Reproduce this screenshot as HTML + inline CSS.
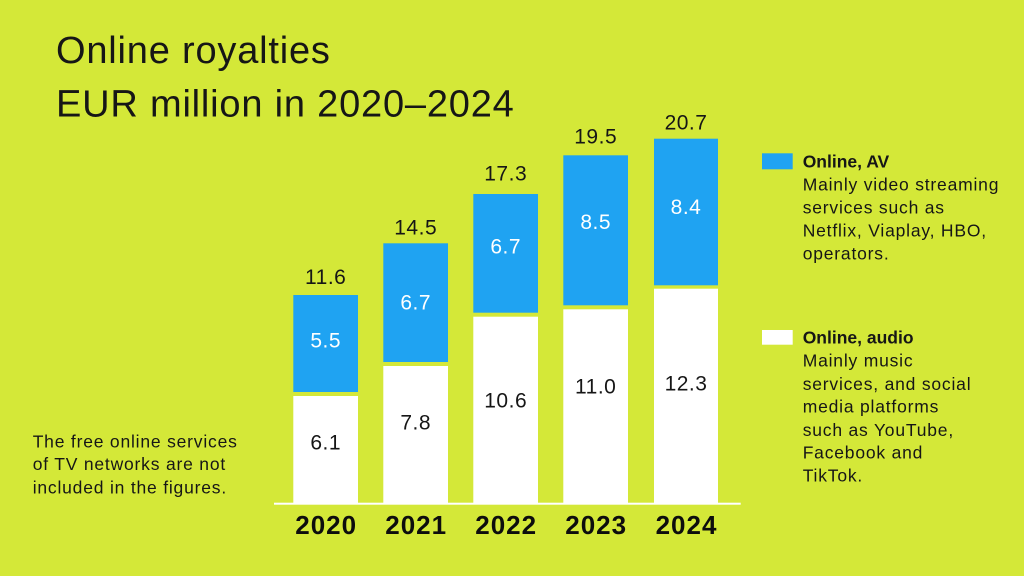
<!DOCTYPE html>
<html>
<head>
<meta charset="utf-8">
<style>
  html, body { margin: 0; padding: 0; }
  body { width: 1024px; height: 576px; overflow: hidden; background: #d4e838; }
  svg { display: block; }
  text { font-family: "Liberation Sans", "DejaVu Sans", sans-serif; fill: #161616; }
  .title { font-size: 38px; letter-spacing: 0.8px; }
  .tot { font-size: 21px; letter-spacing: 0.5px; }
  .inb { font-size: 21px; letter-spacing: 0.5px; fill: #ffffff; }
  .inw { font-size: 21px; letter-spacing: 0.5px; }
  .yr { font-size: 26px; font-weight: bold; letter-spacing: 1px; fill: #0d0d0d; }
  .lgb { font-size: 17.5px; font-weight: bold; }
  .lg { font-size: 17.5px; letter-spacing: 0.8px; }
</style>
</head>
<body>
<svg width="1024" height="576" viewBox="0 0 1024 576" xmlns="http://www.w3.org/2000/svg">
  <rect x="0" y="0" width="1024" height="576" fill="#d4e838"/>

  <!-- Title -->
  <text class="title" x="56" y="63">Online royalties</text>
  <text class="title" x="56" y="116.5">EUR million in 2020–2024</text>

  <!-- Bars -->
  <g fill="#1fa3f2">
    <rect x="293.3" y="295" width="64.7" height="97"/>
    <rect x="383.3" y="243.3" width="64.7" height="118.7"/>
    <rect x="473.3" y="194" width="64.7" height="118.7"/>
    <rect x="563.3" y="155.3" width="64.7" height="150"/>
    <rect x="654" y="138.7" width="64" height="146.6"/>
  </g>
  <g fill="#ffffff">
    <rect x="293.3" y="396" width="64.7" height="107"/>
    <rect x="383.3" y="366" width="64.7" height="137"/>
    <rect x="473.3" y="316.7" width="64.7" height="186.3"/>
    <rect x="563.3" y="309.3" width="64.7" height="193.7"/>
    <rect x="654" y="288.7" width="64" height="214.3"/>
    <rect x="274" y="502.7" width="466.7" height="2"/>
  </g>

  <!-- Totals -->
  <g text-anchor="middle">
    <text class="tot" x="325.7" y="284">11.6</text>
    <text class="tot" x="415.7" y="234.7">14.5</text>
    <text class="tot" x="505.7" y="180.7">17.3</text>
    <text class="tot" x="595.7" y="143.3">19.5</text>
    <text class="tot" x="686" y="129.3">20.7</text>

    <text class="inb" x="325.7" y="347.3">5.5</text>
    <text class="inb" x="415.7" y="309.3">6.7</text>
    <text class="inb" x="505.7" y="253.3">6.7</text>
    <text class="inb" x="595.7" y="229">8.5</text>
    <text class="inb" x="686" y="214">8.4</text>

    <text class="inw" x="325.7" y="449.3">6.1</text>
    <text class="inw" x="415.7" y="429.3">7.8</text>
    <text class="inw" x="505.7" y="407.3">10.6</text>
    <text class="inw" x="595.7" y="393.3">11.0</text>
    <text class="inw" x="686" y="390.7">12.3</text>

    <text class="yr" x="326.2" y="534">2020</text>
    <text class="yr" x="416.2" y="534">2021</text>
    <text class="yr" x="506.2" y="534">2022</text>
    <text class="yr" x="596.2" y="534">2023</text>
    <text class="yr" x="686.5" y="534">2024</text>
  </g>

  <!-- Footnote -->
  <text class="lg" x="32.7" y="447.3">The free online services</text>
  <text class="lg" x="32.7" y="470">of TV networks are not</text>
  <text class="lg" x="32.7" y="493.3">included in the figures.</text>

  <!-- Legend -->
  <rect x="762" y="153.3" width="30.7" height="16" fill="#1fa3f2"/>
  <text class="lgb" x="802.7" y="167.7">Online, AV</text>
  <text class="lg" x="802.7" y="190.7">Mainly video streaming</text>
  <text class="lg" x="802.7" y="213.5">services such as</text>
  <text class="lg" x="802.7" y="236.6">Netflix, Viaplay, HBO,</text>
  <text class="lg" x="802.7" y="259.5">operators.</text>

  <rect x="762" y="330" width="30.7" height="14.7" fill="#ffffff"/>
  <text class="lgb" x="802.7" y="343.3">Online, audio</text>
  <text class="lg" x="802.7" y="366.7">Mainly music</text>
  <text class="lg" x="802.7" y="390">services, and social</text>
  <text class="lg" x="802.7" y="412.7">media platforms</text>
  <text class="lg" x="802.7" y="436">such as YouTube,</text>
  <text class="lg" x="802.7" y="458.3">Facebook and</text>
  <text class="lg" x="802.7" y="481.7">TikTok.</text>
</svg>
</body>
</html>
